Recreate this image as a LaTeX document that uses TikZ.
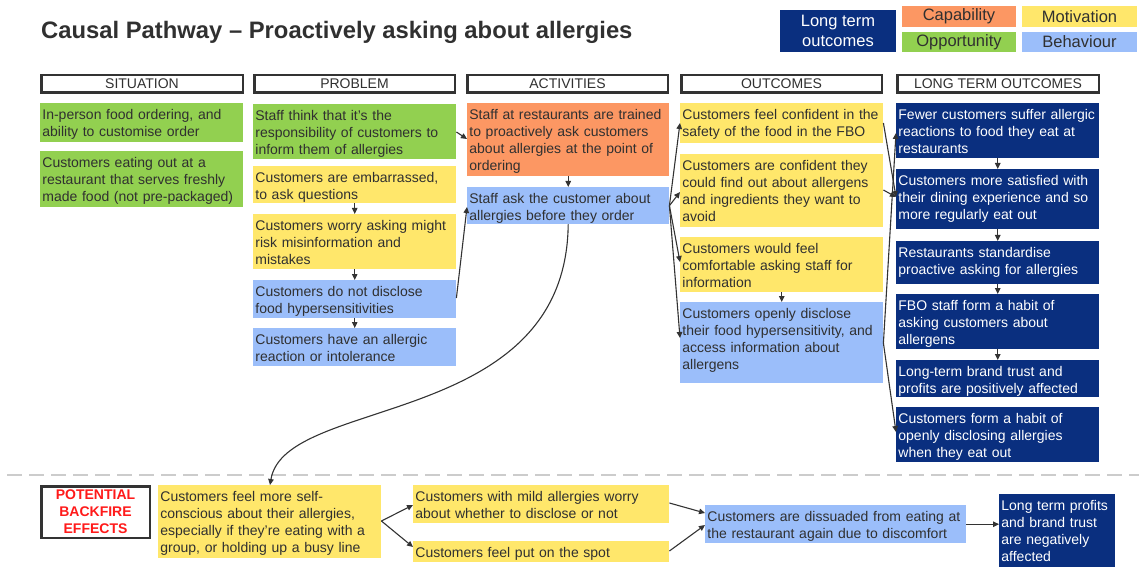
\documentclass[tikz,border=0pt]{standalone}
\usepackage{fontspec}
\setmainfont{Liberation Sans}
\usetikzlibrary{arrows.meta,calc}
\definecolor{cgreen}{HTML}{92D050}
\definecolor{cyel}{HTML}{FFE76B}
\definecolor{corange}{HTML}{FC9763}
\definecolor{cblue}{HTML}{9BBEFA}
\definecolor{cdark}{HTML}{0A2F7F}
\definecolor{ctext}{HTML}{303030}
\definecolor{cline}{HTML}{333333}
\definecolor{cdash}{HTML}{CCCCCC}
\definecolor{cred}{HTML}{FF1A1A}
\tikzset{
  txt/.style={inner sep=0pt, align=left, font=\fontsize{14}{17}\selectfont},
  boxs/.style={inner sep=0pt, draw=none},
  arr/.style={draw=cline, line width=1.1pt, -{Triangle[length=6pt,width=5.5pt]}},
  hdr/.style={draw=cline, line width=2.5pt, fill=white, inner sep=0pt, font=\fontsize{14}{17}\selectfont, text=ctext},
  leg/.style={inner sep=0pt, font=\fontsize{16.5}{19.5}\selectfont, align=center, text=ctext},
}
\newcommand\bx[8]{%
  \node[boxs, fill=#2, minimum width=#6pt, minimum height=#7pt, anchor=north west] (#1) at (#4,#5) {};
  \node[txt, text=#3, text width=#6pt, anchor=north west] (#1t) at (#4+2.2,#5+4.1) {\strut#8};}
\begin{document}
\begin{tikzpicture}[x=1pt,y=-1pt]
\path[use as bounding box] (0,0) rectangle (1139,569);
% title
\node[anchor=base west, inner sep=0pt, font=\fontsize{23.8}{28}\selectfont\bfseries, text=ctext] (title) at (41,39) {Causal Pathway – Proactively asking about allergies};
% legend
\node[leg, fill=cdark, text=white, minimum width=116pt, minimum height=42pt] (lg0) at (838,31) {Long term\\outcomes};
\node[leg, fill=corange, minimum width=114pt, minimum height=21pt] (lg1) at (959,16.5) {Capability};
\node[leg, fill=cyel, minimum width=115pt, minimum height=21pt] (lg2) at (1079.5,16.5) {Motivation};
\node[leg, fill=cgreen, minimum width=114pt, minimum height=20pt] (lg3) at (959,42) {Opportunity};
\node[leg, fill=cblue, minimum width=115pt, minimum height=20pt] (lg4) at (1079.5,42) {Behaviour};
% headers
\node[hdr, minimum width=201.5pt, minimum height=17.5pt] (h1) at (142,84) {SITUATION};
\node[hdr, minimum width=200.5pt, minimum height=17.5pt] (h2) at (354.5,84) {PROBLEM};
\node[hdr, minimum width=200.5pt, minimum height=17.5pt] (h3) at (567.5,84) {ACTIVITIES};
\node[hdr, minimum width=200.5pt, minimum height=17.5pt] (h4) at (781.5,84) {OUTCOMES};
\node[hdr, minimum width=201.5pt, minimum height=17.5pt] (h5) at (998,84) {LONG TERM OUTCOMES};
% situation
\bx{s1}{cgreen}{ctext}{40}{103}{203}{39}{In-person food ordering, and\\ability to customise order}
\bx{s2}{cgreen}{ctext}{40}{151}{203}{56}{Customers eating out at a\\restaurant that serves freshly\\made food (not pre-packaged)}
% problem
\bx{p1}{cgreen}{ctext}{253}{104}{203}{55}{Staff think that it’s the\\responsibility of customers to\\inform them of allergies}
\bx{p2}{cyel}{ctext}{253}{166}{203}{37}{Customers are embarrassed,\\to ask questions}
\bx{p3}{cyel}{ctext}{253}{214}{203}{55}{Customers worry asking might\\risk misinformation and\\mistakes}
\bx{p4}{cblue}{ctext}{253}{280}{203}{38}{Customers do not disclose\\food hypersensitivities}
\bx{p5}{cblue}{ctext}{253}{328}{203}{38}{Customers have an allergic\\reaction or intolerance}
% activities
\bx{a1}{corange}{ctext}{467}{103}{202}{73}{Staff at restaurants are trained\\to proactively ask customers\\about allergies at the point of\\ordering}
\bx{a2}{cblue}{ctext}{467}{187}{202}{37}{Staff ask the customer about\\allergies before they order}
% outcomes
\bx{o1}{cyel}{ctext}{680}{103}{203}{40}{Customers feel confident in the\\safety of the food in the FBO}
\bx{o2}{cyel}{ctext}{680}{154}{203}{73}{Customers are confident they\\could find out about allergens\\and ingredients they want to\\avoid}
\bx{o3}{cyel}{ctext}{680}{237}{203}{55}{Customers would feel\\comfortable asking staff for\\information}
\bx{o4}{cblue}{ctext}{680}{302}{203}{81}{Customers openly disclose\\their food hypersensitivity, and\\access information about\\allergens}
% long term outcomes
\bx{l1}{cdark}{white}{896}{103}{203}{55}{Fewer customers suffer allergic\\reactions to food they eat at\\restaurants}
\bx{l2}{cdark}{white}{896}{169}{203}{60}{Customers more satisfied with\\their dining experience and so\\more regularly eat out}
\bx{l3}{cdark}{white}{896}{241}{203}{43}{Restaurants standardise\\proactive asking for allergies}
\bx{l4}{cdark}{white}{896}{294}{203}{55}{FBO staff form a habit of\\asking customers about\\allergens}
\bx{l5}{cdark}{white}{896}{360}{203}{37}{Long-term brand trust and\\profits are positively affected}
\bx{l6}{cdark}{white}{896}{407}{203}{55}{Customers form a habit of\\openly disclosing allergies\\when they eat out}
% backfire section
\coordinate (d1) at (7,475);
\coordinate (d2) at (1139,475);
\draw[draw=cdash, line width=2.5pt, dash pattern=on 15pt off 7pt] (d1) -- (d2);
\node[draw=cline, line width=2.5pt, fill=white, minimum width=108.5pt, minimum height=51.5pt, inner sep=0pt, font=\fontsize{14}{17}\selectfont\bfseries, text=cred, align=center] (bf) at (95.5,512) {POTENTIAL\\BACKFIRE\\EFFECTS};
\bx{sc}{cyel}{ctext}{158}{485}{223}{73}{Customers feel more self-\\conscious about their allergies,\\especially if they’re eating with a\\group, or holding up a busy line}
\bx{mi}{cyel}{ctext}{413}{485}{256}{38}{Customers with mild allergies worry\\about whether to disclose or not}
\bx{sp}{cyel}{ctext}{413}{541}{256}{21}{Customers feel put on the spot}
\bx{di}{cblue}{ctext}{705}{505}{261}{38}{Customers are dissuaded from eating at\\the restaurant again due to discomfort}
\bx{lt}{cdark}{white}{999}{494}{116}{73}{Long term profits\\and brand trust\\are negatively\\affected}
% vertical arrows
\draw[arr] (p2) -- (p3);
\draw[arr] (p3) -- (p4);
\draw[arr] (p4) -- (p5);
\draw[arr] (a1) -- (a2);
\draw[arr] (o3) -- (o4);
\draw[arr] (l1) -- (l2);
\draw[arr] (l2) -- (l3);
\draw[arr] (l3) -- (l4);
\draw[arr] (l4) -- (l5);
% cross arrows
\draw[arr] ([yshift=-28pt]p1.north east) -- ([yshift=-36pt]a1.north west);
\draw[arr] ([yshift=-18pt]p4.north east) -- ([yshift=-20pt]a2.north west);
\draw[arr] (a2.east) -- ([yshift=-20pt]o1.north west);
\draw[arr] (a2.east) -- ([yshift=-38pt]o2.north west);
\draw[arr] (a2.east) -- ([yshift=-25pt]o3.north west);
\draw[arr] (a2.east) -- ([yshift=-36pt]o4.north west);
\draw[arr] ([yshift=-20pt]o1.north east) -- ([yshift=-28pt]l2.north west);
\draw[arr] ([yshift=-36pt]o2.north east) -- ([yshift=-28pt]l2.north west);
\draw[arr] ([yshift=-41pt]o4.north east) -- ([yshift=-30pt]l1.north west);
\draw[arr] ([yshift=-41pt]o4.north east) -- ([yshift=-25pt]l6.north west);
% curve to backfire
\draw[arr] (a2.south) .. controls (566,430) and (285,395) .. ([xshift=112pt]sc.north west);
% backfire arrows
\draw[arr] ([yshift=-36pt]sc.north east) -- ([yshift=-20pt]mi.north west);
\draw[arr] ([yshift=-36pt]sc.north east) -- ([yshift=-6pt]sp.north west);
\draw[arr] ([yshift=-18pt]mi.north east) -- ([yshift=-8pt]di.north west);
\draw[arr] ([yshift=-10pt]sp.north east) -- ([yshift=-20pt]di.north west);
\draw[arr] (di.east) -- (di.east -| lt.west);
\end{tikzpicture}
\end{document}
